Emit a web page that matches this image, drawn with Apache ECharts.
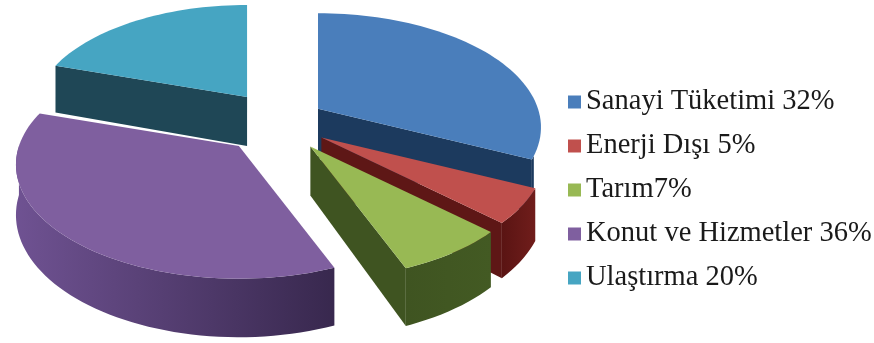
<!DOCTYPE html>
<html>
<head>
<meta charset="utf-8">
<style>html,body{margin:0;padding:0;background:#fff}#main{width:874px;height:343px}</style>
<script src="https://cdn.jsdelivr.net/npm/echarts@6/dist/echarts.min.js"></script>
</head>
<body>
<div id="main"></div>
<script>
// Energy consumption shares by sector
const labels = ['Sanayi Tüketimi 32%', 'Enerji Dışı 5%', 'Tarım7%', 'Konut ve Hizmetler 36%', 'Ulaştırma 20%'];
const values = [32, 5, 7, 36, 20];

// Per-slice appearance
const topColors = ['#4a7ebb', '#c0504d', '#98b954', '#7f5f9f', '#46a5c2'];
const faceColors = ['#1c3a5e', '#5e1716', '#3f5421', '#3c2a52', '#1f4756'];
const wallStart = ['#1c3a5e', '#5a1413', '#3f5421', '#6f5292', '#1f4756'];
const wallEnd = ['#1c3a5e', '#701d1b', '#435a23', '#38284e', '#1f4756'];
const explode = [45, 50, 54, 60, 56];
const sliceScale = [1, 1, 1, 1, 0.96];
const layers = [2, 3, 5, 4, 1];

// Projection of the tilted pie
const centre = [280, 122];
const explodeTilt = 0.55;
const radiusX = 220;
const radiusY = 111;
const perspective = 0.163;
const thickness = 49;
const arcStep = Math.PI / 90;
const rimFirstAngle = 1.98;

function project(apex, radius, angle, drop) {
  const v = radius * Math.cos(angle);
  const u = radius * Math.sin(angle);
  const s = 1 / (1 + perspective * v);
  return [apex[0] + radiusX * u * s, apex[1] - radiusY * v * s + drop * thickness * s];
}

function arcAngles(from, to) {
  const list = [];
  for (let a = from; a < to; a += arcStep) list.push(a);
  list.push(to);
  return list;
}

const total = values.reduce((a, b) => a + b, 0);

function renderSlice(index) {
  let sum = 0;
  for (let i = 0; i < index; i++) sum += values[i];
  const start = sum / total * Math.PI * 2;
  const end = (sum + values[index]) / total * Math.PI * 2;
  const mid = (start + end) / 2;
  const apex = [
    centre[0] + explode[index] * Math.sin(mid),
    centre[1] - explode[index] * explodeTilt * Math.cos(mid)
  ];
  const reach = sliceScale[index];
  const children = [];

  // Rounded rim, only where it faces the viewer
  const wallFrom = Math.max(start, rimFirstAngle);
  const wallTo = Math.min(end, Math.PI * 1.5);
  if (wallFrom < wallTo) {
    const arc = arcAngles(wallFrom, wallTo);
    const upper = arc.map(a => project(apex, reach, a, 0));
    const lower = arc.map(a => project(apex, reach, a, 1)).reverse();
    children.push({
      type: 'polygon',
      shape: { points: upper.concat(lower) },
      style: {
        fill: new echarts.graphic.LinearGradient(1, 0, 0, 0, [
          { offset: 0, color: wallEnd[index] },
          { offset: 1, color: wallStart[index] }
        ])
      }
    });
  }

  // Flat cut faces turned towards the viewer
  [[start, Math.sin(start) < 0], [end, Math.sin(end) > 0]].forEach(([angle, visible]) => {
    if (!visible) return;
    children.push({
      type: 'polygon',
      shape: { points: [
        project(apex, 0, angle, 0),
        project(apex, reach, angle, 0),
        project(apex, reach, angle, 1),
        project(apex, 0, angle, 1)
      ] },
      style: { fill: faceColors[index] }
    });
  });

  // Top surface
  const rim = arcAngles(start, end).map(a => project(apex, reach, a, 0));
  children.push({
    type: 'polygon',
    shape: { points: [project(apex, 0, 0, 0)].concat(rim) },
    style: { fill: topColors[index] }
  });

  return { type: 'group', children };
}

const chart = echarts.init(document.getElementById('main'), null, { renderer: 'canvas' });
chart.setOption({
  animation: false,
  backgroundColor: '#ffffff',
  legend: {
    orient: 'vertical',
    left: 568,
    top: 87,
    padding: 0,
    icon: 'rect',
    itemWidth: 13,
    itemHeight: 13,
    itemGap: 14,
    selectedMode: false,
    data: labels,
    textStyle: {
      fontFamily: '"Liberation Serif", serif',
      fontSize: 28.5,
      lineHeight: 30,
      color: '#1a1a1a'
    }
  },
  series: labels.map((name, i) => ({
    type: 'custom',
    name,
    coordinateSystem: 'none',
    silent: true,
    z: layers[i],
    itemStyle: { color: topColors[i] },
    data: [values[i]],
    renderItem: () => renderSlice(i)
  }))
});
</script>
</body>
</html>
